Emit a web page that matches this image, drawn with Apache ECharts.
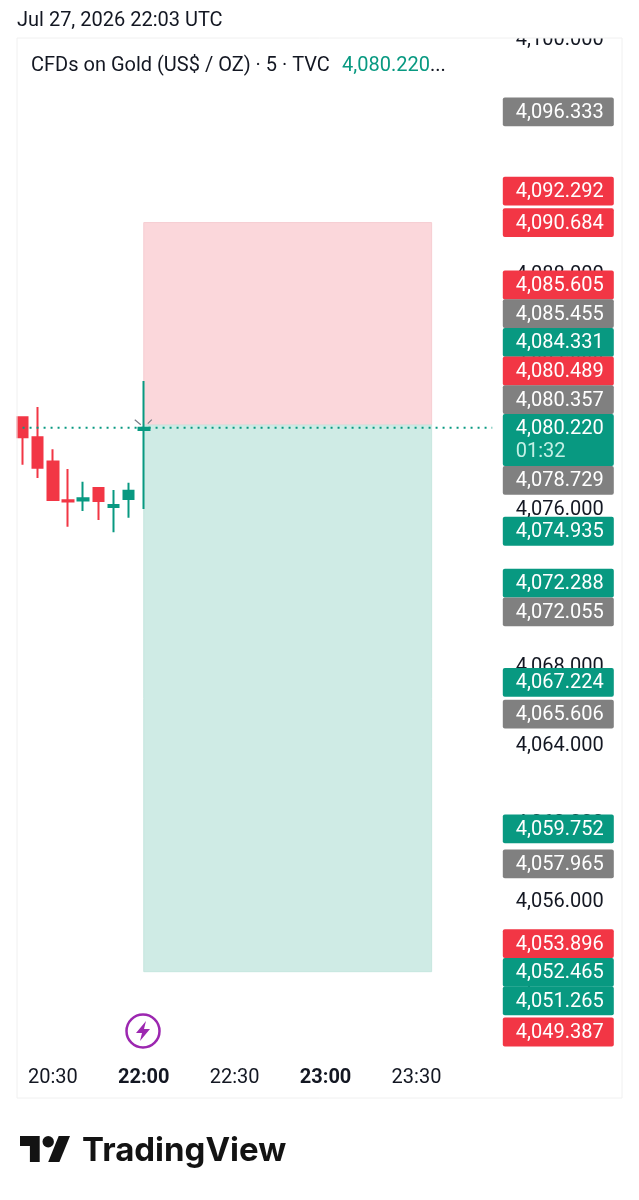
<!DOCTYPE html>
<html>
<head>
<meta charset="utf-8">
<style>
  html, body { margin: 0; padding: 0; background: #fff; }
  #main { width: 639px; height: 1200px; }
</style>
<script src="https://cdn.jsdelivr.net/npm/echarts@6/dist/echarts.min.js"></script>
</head>
<body>
<div id="main"></div>
<script>
// 5 minute bars, the session break sits between 20:55 and 22:00
var times = ['20:20', '20:25', '20:30', '20:35', '20:40', '20:45', '20:50', '20:55',
  '22:00', '22:05', '22:10', '22:15', '22:20', '22:25', '22:30', '22:35',
  '22:40', '22:45', '22:50', '22:55', '23:00', '23:05', '23:10', '23:15',
  '23:20', '23:25', '23:30', '23:35', '23:40', '23:45', '23:50', '23:55'];
var timeLabels = ['20:30', '22:00', '22:30', '23:00', '23:30'];
var boldTimes = ['22:00', '23:00'];

// one entry per bar, from 20:20 up to the running 22:00 bar
var opens = [4080.75, 4079.73, 4078.50, 4076.52, 4076.51, 4077.14, 4076.17, 4076.58, 4080.10];
var closes = [4079.73, 4078.18, 4076.53, 4076.45, 4076.62, 4076.48, 4076.27, 4077.00, 4080.22];
var lows = [4078.33, 4077.65, 4076.49, 4075.17, 4075.97, 4075.51, 4074.88, 4075.63, 4076.07];
var highs = [4080.77, 4081.27, 4079.12, 4078.11, 4077.46, 4077.18, 4077.04, 4077.41, 4082.60];

var lastPrice = 4080.220;
var countdown = '01:32';

// long position drawing
var positionStart = '22:00';
var positionEnd = '23:35';
var stopPrice = 4090.684;
var entryPrice = 4080.357;
var targetPrice = 4052.465;

var priceMin = 4048;
var priceMax = 4100;
var priceStep = 4;

// price scale tags, top to bottom
var tagPrices = [4096.333, 4092.292, 4090.684, 4085.605, 4085.455, 4084.331, 4080.489, 4080.357,
  4080.220, 4078.729, 4074.935, 4072.288, 4072.055, 4067.224, 4065.606, 4059.752, 4057.965,
  4053.896, 4052.465, 4051.265, 4049.387];
var tagKinds = ['grey', 'red', 'red', 'red', 'grey', 'green', 'red', 'grey',
  'green', 'grey', 'green', 'green', 'grey', 'green', 'grey', 'green', 'grey',
  'red', 'green', 'green', 'red'];

var RED = '#F23645';
var GREEN = '#089981';
var GREY = '#808080';
var INK = '#131722';
var FONT = 'Roboto, sans-serif';
var tagColors = { red: RED, green: GREEN, grey: GREY };

function money(v) {
  return v.toFixed(3).replace(/\B(?=(\d{3})+(?!\d)(?=\.))/, ',');
}

// the last price tag stays on its price, the others get pushed away from it
function tagCentres(api) {
  var slot = 28.66;
  var anchor = tagPrices.indexOf(lastPrice);
  var ys = tagPrices.map(function (p) { return api.coord([0, p])[1]; });
  var top = ys[anchor] - 13.7;
  var bottom = top + 52;
  for (var i = anchor - 1; i >= 0; i--) {
    ys[i] = Math.min(ys[i], top - slot / 2);
    top = ys[i] - slot / 2;
  }
  for (var j = anchor + 1; j < ys.length; j++) {
    ys[j] = Math.max(ys[j], bottom + slot / 2);
    bottom = ys[j] + slot / 2;
  }
  ys.anchorTop = ys[anchor] - 13.7;
  return ys;
}

function renderTag(params, api) {
  var i = params.dataIndex;
  var ys = tagCentres(api);
  var left = params.coordSys.x + params.coordSys.width + 3;
  var isLast = tagPrices[i] === lastPrice;
  var y = ys[i];
  var children = [{
    type: 'rect',
    shape: { x: left, y: isLast ? ys.anchorTop : y - 14.4, width: 111, height: isLast ? 52 : 28.8, r: 2 },
    style: { fill: tagColors[tagKinds[i]] }
  }, {
    type: 'text',
    style: {
      text: money(tagPrices[i]), x: left + 13, y: y + 1,
      fill: '#fff', font: '20px ' + FONT, textAlign: 'left', textVerticalAlign: 'middle'
    }
  }];
  if (isLast) {
    children.push({
      type: 'text',
      style: {
        text: countdown, x: left + 13, y: y + 24,
        fill: '#C4F0E6', font: '20px ' + FONT, textAlign: 'left', textVerticalAlign: 'middle'
      }
    });
  }
  return { type: 'group', children: children };
}

// small handles of the drawing, around the entry point
function renderHandles(params, api) {
  var p = api.coord([positionStart, lastPrice]);
  var style = { stroke: '#787B86', lineWidth: 1.2 };
  return {
    type: 'group',
    children: [
      { type: 'line', shape: { x1: p[0] - 9, y1: p[1] - 8, x2: p[0] - 3, y2: p[1] - 3 }, style: style },
      { type: 'line', shape: { x1: p[0] + 4, y1: p[1] - 4, x2: p[0] + 8, y2: p[1] - 8 }, style: style }
    ]
  };
}

var chart = echarts.init(document.getElementById('main'), null, { renderer: 'canvas' });

var option = {
  animation: false,
  backgroundColor: '#fff',
  textStyle: { fontFamily: FONT },
  grid: { left: 15, top: 40, width: 484.8, height: 1019.2 },
  xAxis: {
    type: 'category',
    data: times,
    boundaryGap: true,
    axisLine: { show: false },
    axisTick: { show: false },
    splitLine: { show: false },
    axisLabel: {
      margin: 9,
      interval: function (i, name) { return timeLabels.indexOf(name) >= 0; },
      formatter: function (name) {
        return boldTimes.indexOf(name) >= 0 ? '{b|' + name + '}' : '{n|' + name + '}';
      },
      rich: {
        n: { fontSize: 20, color: INK, fontFamily: FONT },
        b: { fontSize: 20, color: INK, fontFamily: FONT, fontWeight: 'bold' }
      }
    }
  },
  yAxis: {
    type: 'value',
    position: 'right',
    min: priceMin,
    max: priceMax,
    interval: priceStep,
    axisLine: { show: false },
    axisTick: { show: false },
    splitLine: { show: false },
    axisLabel: {
      margin: 16,
      showMinLabel: false,
      color: INK,
      fontSize: 20,
      fontFamily: FONT,
      formatter: money
    }
  },
  series: [
    {
      type: 'candlestick',
      z: 2,
      barWidth: 11,
      data: opens.map(function (o, i) { return [o, closes[i], lows[i], highs[i]]; }),
      itemStyle: { color: GREEN, color0: RED, borderColor: GREEN, borderColor0: RED, borderWidth: 2 },
      markArea: {
        silent: true,
        z: 1,
        data: [
          [{ xAxis: positionStart, yAxis: stopPrice, itemStyle: { color: '#FBD7DB', borderColor: '#F6CDD2', borderWidth: 1 } },
            { xAxis: positionEnd, yAxis: entryPrice }],
          [{ xAxis: positionStart, yAxis: entryPrice, itemStyle: { color: '#CFEBE5', borderColor: '#C6E6DF', borderWidth: 1 } },
            { xAxis: positionEnd, yAxis: targetPrice }]
        ]
      }
    },
    {
      type: 'line',
      z: 3,
      symbol: 'none',
      silent: true,
      data: times.map(function (t) { return [t, lastPrice]; }),
      lineStyle: { color: GREEN, width: 2, type: [2, 5] }
    },
    {
      type: 'custom',
      z: 4,
      silent: true,
      clip: false,
      data: [[positionStart, lastPrice]],
      encode: { x: 0, y: 1 },
      renderItem: renderHandles
    },
    {
      type: 'custom',
      z: 10,
      silent: true,
      clip: false,
      data: tagPrices.map(function (p) { return [0, p]; }),
      encode: { x: 0, y: 1 },
      renderItem: renderTag
    }
  ],
  graphic: [
    // mask, the top scale label is cut by the panel edge
    { type: 'rect', z: 50, shape: { x: 0, y: 0, width: 639, height: 38 }, style: { fill: '#fff' } },
    { type: 'rect', z: 51, silent: true, shape: { x: 17, y: 38, width: 605, height: 1060 }, style: { fill: 'none', stroke: '#F0F0F0', lineWidth: 1 } },
    { type: 'text', z: 52, x: 17, y: 11, style: { text: 'Jul 27, 2026 22:03 UTC', fill: INK, font: '20px ' + FONT } },
    { type: 'text', z: 52, x: 31, y: 56, style: { text: 'CFDs on Gold (US$ / OZ) · 5 · TVC', fill: INK, font: '20px ' + FONT } },
    { type: 'text', z: 52, x: 342, y: 56, style: { text: '4,080.220', fill: GREEN, font: '20px ' + FONT } },
    { type: 'text', z: 52, x: 430, y: 56, style: { text: '...', fill: INK, font: '20px ' + FONT } },
    // session break icon
    { type: 'circle', z: 52, shape: { cx: 143, cy: 1031, r: 16.5 }, style: { fill: '#fff', stroke: '#9C27B0', lineWidth: 2.5 } },
    { type: 'polygon', z: 53, shape: { points: [[146, 1021], [136, 1033], [142, 1033], [140, 1041], [150, 1029], [144, 1029]] }, style: { fill: '#9C27B0' } },
    // logo
    { type: 'polygon', z: 52, shape: { points: [[20, 1136], [39.7, 1136], [39.7, 1162], [29.9, 1162], [29.9, 1146], [20, 1146]] }, style: { fill: '#131313' } },
    { type: 'polygon', z: 52, shape: { points: [[48.2, 1162], [59.4, 1162], [70, 1136], [58.7, 1136]] }, style: { fill: '#131313' } },
    { type: 'circle', z: 52, shape: { cx: 48.2, cy: 1141.8, r: 5.7 }, style: { fill: '#131313' } },
    { type: 'text', z: 52, x: 82, y: 1135, style: { text: 'TradingView', fill: '#131313', font: '700 33px Inter, sans-serif' } }
  ]
};

chart.setOption(option);
</script>
</body>
</html>
